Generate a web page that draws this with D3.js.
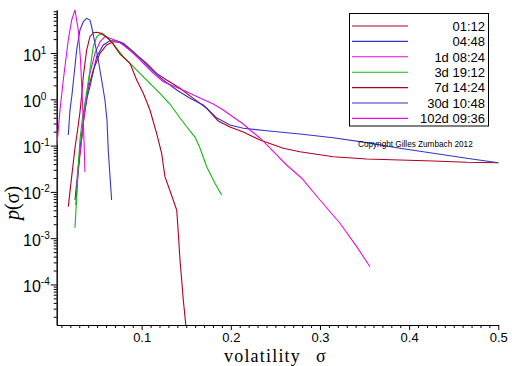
<!DOCTYPE html>
<html><head><meta charset="utf-8">
<script src="https://cdn.jsdelivr.net/npm/d3@7"></script>
<style>body{margin:0;background:#fff}</style>
</head><body>
<svg id="c" width="512" height="366"></svg>
<script>
// ---- data (sigma, p(sigma)) ----
const seriesNames = ["01:12","04:48","1d 08:24","3d 19:12","7d 14:24","30d 10:48","102d 09:36"];
const seriesColors = ["#b0001e","#3434c8","#e010e0","#10b810","#b0001e","#3434c8","#e010e0"];

const s0112 = [[0.0263,0.00521],[0.0285,0.0232],[0.0319,0.103],[0.0353,0.395],[0.0398,1.59],[0.0457,4.30],[0.0532,9.85],[0.0607,14.9],[0.0681,17.5],[0.0757,17.0],[0.0832,13.7],[0.0944,9.06],[0.1056,5.99],[0.1168,3.64],[0.1280,2.61],[0.1430,1.73],[0.1579,1.05],[0.1729,0.640],[0.1858,0.340],[0.1990,0.252],[0.2140,0.197],[0.2327,0.132],[0.2588,0.0874],[0.2776,0.0738],[0.3149,0.0576],[0.3524,0.0514],[0.3897,0.0489],[0.4271,0.0465],[0.4646,0.0436],[0.5,0.0427]];
const s0448 = [[0.0252,0.00668],[0.0285,0.0297],[0.0319,0.132],[0.0353,0.458],[0.0387,1.07],[0.0420,1.87],[0.0495,8.32],[0.0569,14.9],[0.0644,18.4],[0.0720,18.4],[0.0794,16.2],[0.0906,10.7],[0.1018,6.49],[0.1130,3.95],[0.1242,2.61],[0.1393,1.59],[0.1542,1.05],[0.1691,0.753],[0.1841,0.398],[0.1990,0.279],[0.2140,0.236],[0.2402,0.210],[0.2776,0.178],[0.3149,0.148],[0.3524,0.116],[0.3897,0.0874],[0.4271,0.0682],[0.4646,0.0532],[0.5,0.0427]];
const s1d0824 = [[0.0274,0.0141],[0.0297,0.0489],[0.0327,0.132],[0.0353,0.458],[0.0383,1.14],[0.0420,3.64],[0.0476,9.85],[0.0532,17.5],[0.0588,22.5],[0.0644,20.8],[0.0720,18.4],[0.0794,14.9],[0.0906,9.85],[0.1018,5.99],[0.1130,3.64],[0.1242,2.40],[0.1354,1.94],[0.1505,1.46],[0.1654,1.07],[0.1803,0.791],[0.1915,0.587],[0.2027,0.415],[0.2140,0.293],[0.2215,0.217],[0.2327,0.146],[0.2476,0.0746],[0.2626,0.0381],[0.2795,0.0197],[0.3000,0.00668],[0.3224,0.00210],[0.3412,0.000655],[0.3561,0.000242]];
const s3d1912 = [[0.0252,0.00166],[0.0269,0.00668],[0.0285,0.0297],[0.0308,0.132],[0.0336,0.395],[0.0375,1.12],[0.0420,4.30],[0.0457,13.7],[0.0495,22.5],[0.0532,25.7],[0.0569,24.5],[0.0644,19.1],[0.0720,12.6],[0.0794,8.32],[0.0906,5.06],[0.1056,2.61],[0.1205,1.35],[0.1317,0.791],[0.1430,0.395],[0.1542,0.207],[0.1598,0.153],[0.1654,0.0888],[0.1729,0.0350],[0.1822,0.0153],[0.1897,0.00857]];
const s7d1424 = [[0.0177,0.00479],[0.0215,0.0213],[0.0252,0.0888],[0.0289,0.279],[0.0308,0.532],[0.0327,1.24],[0.0345,3.08],[0.0383,11.6],[0.0420,22.5],[0.0457,27.4],[0.0495,28.0],[0.0551,26.6],[0.0607,22.5],[0.0681,15.6],[0.0757,9.51],[0.0869,5.99],[0.0944,2.61],[0.1018,1.35],[0.1093,0.587],[0.1168,0.184],[0.1224,0.0682],[0.1261,0.0213],[0.1354,0.00668],[0.1393,0.00406],[0.1411,0.00128],[0.1430,0.000338],[0.1467,0.0000462],[0.1497,0.0000123]];
const s30d1048 = [[0.0177,0.169],[0.0196,0.587],[0.0218,1.24],[0.0271,11.6],[0.0308,31.4],[0.0345,47.4],[0.0383,56.1],[0.0420,51.6],[0.0439,37.0],[0.0476,16.4],[0.0513,7.06],[0.0551,2.61],[0.0588,0.966],[0.0611,0.357],[0.0625,0.080],[0.0663,0.0067]];
const s102d0936 = [[0.0050,0.103],[0.0084,0.587],[0.0121,2.61],[0.0177,19.1],[0.0215,51.6],[0.0252,85],[0.0289,31.4],[0.0314,7.06],[0.0330,1.59],[0.0342,0.458],[0.0353,0.132],[0.0364,0.0269]];
const seriesData = [s0112, s0448, s1d0824, s3d1912, s7d1424, s30d1048, s102d0936];

const xTickValues = [0.1, 0.2, 0.3, 0.4, 0.5];
const xTickLabels = ["0.1", "0.2", "0.3", "0.4", "0.5"];
const yTickExponents = [1, 0, -1, -2, -3, -4];
const xDomain = [0.0047, 0.5];
const yDomain = [1.33e-5, 85];

// ---- drawing ----
const svg = d3.select("#c");
const L = 56.7, R = 498.3, T = 10, B = 325;
const x = d3.scaleLinear().domain(xDomain).range([L, R]);
const y = d3.scaleLog().domain(yDomain).range([B, T]);

svg.append("defs").append("clipPath").attr("id","clip")
  .append("rect").attr("x", L).attr("y", T - 2).attr("width", R - L + 2).attr("height", B - T + 2);

// minor ticks
const xMinor = d3.range(1, 50).map(k => k / 100).filter(v => Math.round(v * 100) % 10 !== 0);
const yMinor = [];
for (let e = -5; e <= 1; e++) for (let k = 2; k <= 9; k++) {
  const v = k * Math.pow(10, e);
  if (v >= yDomain[0] && v <= yDomain[1]) yMinor.push(v);
}

const fontSans = "'Liberation Sans', Arial, sans-serif";
const fontSerif = "'Liberation Serif', 'Times New Roman', serif";

const gxMinor = svg.append("g").attr("transform", `translate(0,${B})`)
  .call(d3.axisBottom(x).tickValues(xMinor).tickSize(3).tickFormat("").tickSizeOuter(0));
const gx = svg.append("g").attr("transform", `translate(0,${B})`)
  .call(d3.axisBottom(x).tickValues(xTickValues).tickFormat((d, i) => xTickLabels[i]).tickSize(5).tickPadding(3).tickSizeOuter(0));
gx.selectAll("text").attr("font-family", fontSans).attr("font-size", 13).attr("fill", "#000");

const gyMinor = svg.append("g").attr("transform", `translate(${L},0)`)
  .call(d3.axisLeft(y).tickValues(yMinor).tickSize(3).tickFormat("").tickSizeOuter(0));
const gy = svg.append("g").attr("transform", `translate(${L},0)`)
  .call(d3.axisLeft(y).tickValues(yTickExponents.map(e => Math.pow(10, e))).tickSize(6).tickFormat("").tickSizeOuter(0));
[gxMinor, gx, gyMinor, gy].forEach(g => {
  g.selectAll("line").attr("stroke", "#000");
  g.select(".domain").attr("stroke", "#000");
});

// y labels 10^e
yTickExponents.forEach(e => {
  const t = svg.append("text").attr("x", 23).attr("y", y(Math.pow(10, e)) + 7.5)
    .attr("font-family", fontSans).attr("font-size", 16).attr("fill", "#000");
  t.append("tspan").text("10");
  t.append("tspan").attr("dy", -7).attr("font-size", 10).text(String(e));
});

// series lines
const line = d3.line().x(d => x(d[0])).y(d => y(d[1]));
const gl = svg.append("g").attr("clip-path", "url(#clip)");
seriesData.forEach((s, i) => {
  gl.append("path").datum(s).attr("d", line).attr("fill", "none")
    .attr("stroke", seriesColors[i]).attr("stroke-width", 1.1);
});

// legend
const lg = svg.append("g");
lg.append("rect").attr("x", 349.5).attr("y", 13.5).attr("width", 139).attr("height", 112.5)
  .attr("fill", "#fff").attr("stroke", "#000").attr("stroke-width", 1);
seriesNames.forEach((n, i) => {
  const yy = 26 + i * 15.4;
  lg.append("line").attr("x1", 352).attr("x2", 408).attr("y1", yy).attr("y2", yy)
    .attr("stroke", seriesColors[i]).attr("stroke-width", 1.1);
  lg.append("text").attr("x", 485).attr("y", yy + 4.7).attr("text-anchor", "end")
    .attr("font-family", fontSans).attr("font-size", 13).attr("fill", "#000").text(n);
});

// copyright
svg.append("text").attr("x", 358).attr("y", 147).attr("font-family", fontSans)
  .attr("font-size", 8.2).attr("fill", "#000").text("Copyright Gilles Zumbach 2012");

// axis titles
const xt = svg.append("text").attr("y", 361.5).attr("font-family", fontSerif).attr("font-size", 18)
  .attr("letter-spacing", 1.2).attr("fill", "#000");
xt.append("tspan").attr("x", 224).text("volatility");
xt.append("tspan").attr("x", 316).text("σ");

const yt = svg.append("text").attr("transform", "translate(19,203) rotate(-90)")
  .attr("text-anchor", "middle").attr("font-family", fontSerif).attr("font-size", 20).attr("fill", "#000");
yt.append("tspan").attr("font-style", "italic").text("p");
yt.append("tspan").text("(σ)");
</script>
</body></html>
